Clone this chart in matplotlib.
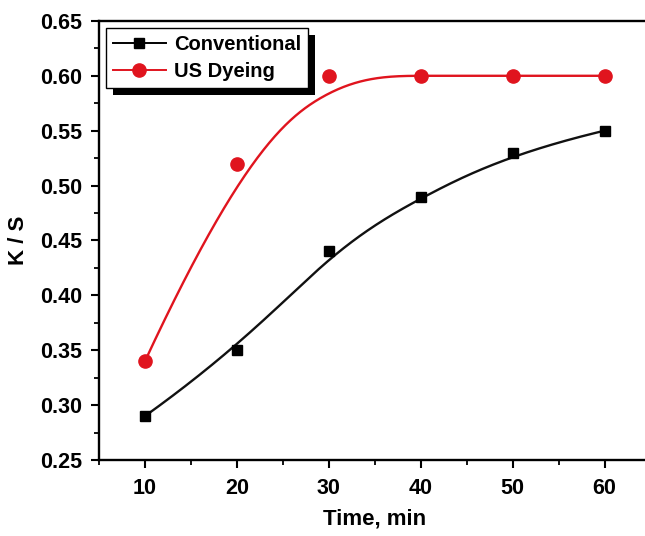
import numpy as np
import matplotlib
matplotlib.use("Agg")
import matplotlib.pyplot as plt
from matplotlib.ticker import MultipleLocator
from matplotlib.patches import Rectangle

time_min = [10, 20, 30, 40, 50, 60]
conventional = [0.29, 0.35, 0.44, 0.49, 0.53, 0.55]
us_dyeing = [0.34, 0.52, 0.60, 0.60, 0.60, 0.60]


# clamped cubic B-spline with the data points as control points (Origin-style "B-Spline" connect)
def bspline(xp, yp, n=400, k=3):
    P = np.column_stack([xp, yp]).astype(float)
    m = len(P)
    knots = np.concatenate([[0.0] * k, np.linspace(0, 1, m - k + 1), [1.0] * k])
    t = np.linspace(0, 1, n)
    N = np.zeros((n, len(knots) - 1))
    for i in range(len(knots) - 1):
        N[:, i] = (knots[i] <= t) & (t < knots[i + 1])
    N[t >= 1.0, :] = 0
    N[t >= 1.0, m - 1] = 1
    for d in range(1, k + 1):
        Nn = np.zeros((n, len(knots) - 1 - d))
        for i in range(len(knots) - 1 - d):
            a = knots[i + d] - knots[i]
            b = knots[i + d + 1] - knots[i + 1]
            if a > 0:
                Nn[:, i] += (t - knots[i]) / a * N[:, i]
            if b > 0:
                Nn[:, i] += (knots[i + d + 1] - t) / b * N[:, i + 1]
        N = Nn
    C = N @ P
    return C[:, 0], C[:, 1]


plt.rcParams['font.family'] = ['Liberation Sans', 'DejaVu Sans']
plt.rcParams['font.weight'] = 'bold'

black = '#111111'
red = '#e0141e'

fig = plt.figure(figsize=(6.45, 5.36), dpi=100)
ax = fig.add_axes([0.1535, 0.1418, 0.855, 0.8192])

cx, cy = bspline(time_min, conventional)
ux, uy = bspline(time_min, us_dyeing)

ax.plot(cx, cy, color=black, lw=1.7, zorder=2)
ax.plot(time_min, conventional, 's', color='black', ms=7.5, zorder=3)
ax.plot(ux, uy, color=red, lw=1.7, zorder=2)
ax.plot(time_min, us_dyeing, 'o', color=red, ms=9.5, zorder=3)

# legend handles with line + marker
h1, = ax.plot([], [], '-s', color='black', ms=7.5, lw=1.4)
h2, = ax.plot([], [], '-o', color=red, ms=9.5, lw=1.4)
leg = ax.legend([h1, h2], ['Conventional', 'US Dyeing'], loc='upper left',
                bbox_to_anchor=(0.013, 0.984), fancybox=False, framealpha=1,
                edgecolor='black', fontsize=14.5, handlelength=2.6,
                handletextpad=0.4, borderpad=0.35, labelspacing=0.4,
                borderaxespad=0)
leg.get_frame().set_linewidth(1.0)
leg.set_zorder(6)

ax.set_xlim(5, 65)
ax.set_ylim(0.25, 0.65)
ax.xaxis.set_major_locator(MultipleLocator(10))
ax.xaxis.set_minor_locator(MultipleLocator(5))
ax.yaxis.set_major_locator(MultipleLocator(0.05))
ax.yaxis.set_minor_locator(MultipleLocator(0.025))
ax.yaxis.set_major_formatter(plt.FormatStrFormatter('%.2f'))

ax.tick_params(which='major', direction='out', length=6, width=1.5, labelsize=15.5)
ax.tick_params(axis='x', which='major', pad=7)
ax.tick_params(axis='y', which='major', pad=6)
ax.tick_params(which='minor', direction='out', length=3.5, width=1.3)
for side in ['left', 'bottom', 'top', 'right']:
    ax.spines[side].set_linewidth(1.7)

ax.set_xlabel('Time, min', fontsize=16, fontweight='bold', labelpad=7)
ax.set_ylabel('K / S', fontsize=16, fontweight='bold', labelpad=8)

# solid black drop shadow behind the legend box
fig.canvas.draw()
bb = leg.get_frame().get_window_extent()
off = 7
shadow = Rectangle((bb.x0 + off, bb.y0 - off), bb.width, bb.height,
                   transform=None, facecolor='black', edgecolor='none', zorder=5.5)
ax.add_artist(shadow)

fig.savefig('out.png', dpi=100)
